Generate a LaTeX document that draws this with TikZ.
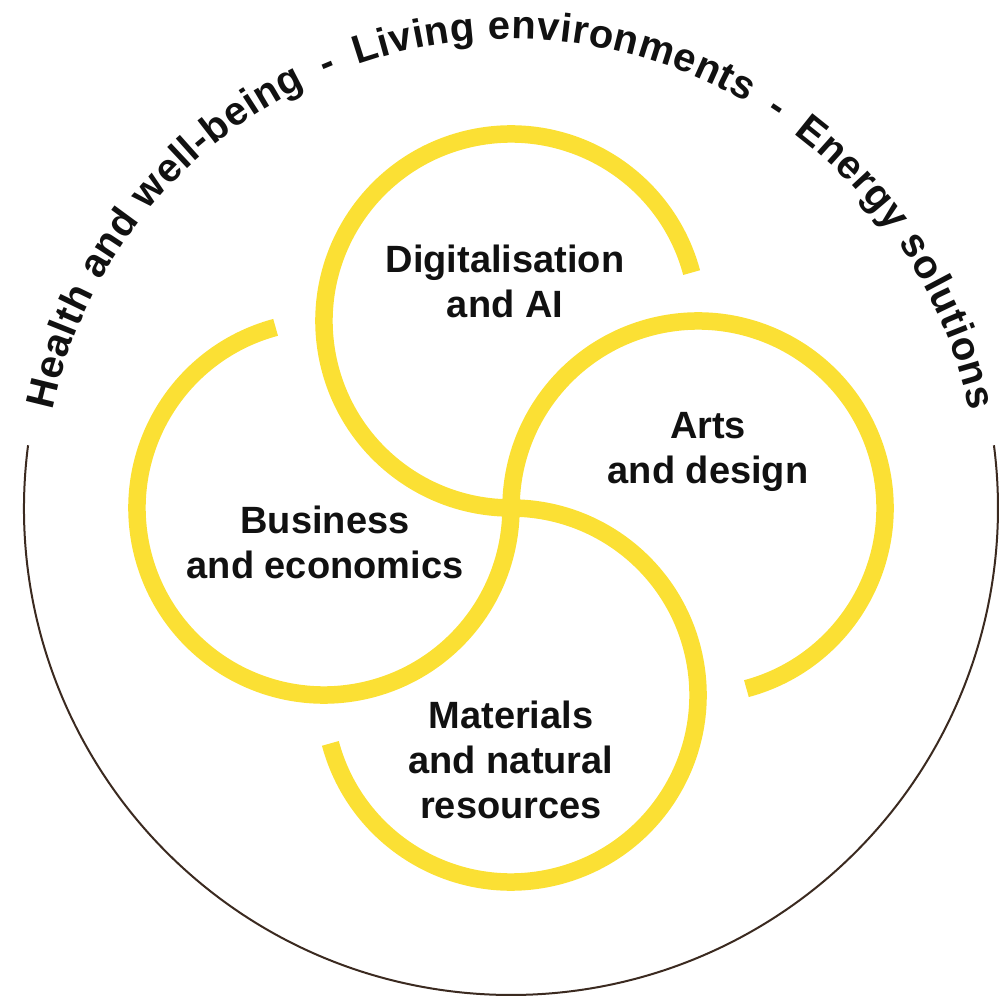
\documentclass[tikz,border=0pt]{standalone}
\usepackage{fontspec}
\setmainfont{Liberation Sans}
\usepackage{xcolor}
\usetikzlibrary{decorations.text}
\definecolor{Ink}{HTML}{111111}
\definecolor{Sun}{HTML}{FBE034}
\definecolor{Bark}{HTML}{3B2A20}

\begin{document}
\begin{tikzpicture}[x=1pt,y=1pt,
  ring/.style={Sun,line width=17.5pt},
  topic/.style={align=center,text=Ink,font=\bfseries\fontsize{38}{45}\selectfont}]
  \useasboundingbox (0,0) rectangle (1008,999);
  \coordinate (hub) at (511,491);
  \coordinate (d) at (511,678);
  \coordinate (a) at (698,491);
  \coordinate (m) at (511,304);
  \coordinate (b) at (324,491);
  % outer rim
  \draw[Bark,line width=2pt] (hub) ++(172.6:487) arc[start angle=172.6,end angle=367.4,radius=487];
  % four rings meeting in the hub
  \draw[ring] (d) ++(15:187) arc[start angle=15,end angle=270,radius=187];
  \draw[ring] (a) ++(-75:187) arc[start angle=-75,end angle=180,radius=187];
  \draw[ring] (m) ++(-165:187) arc[start angle=-165,end angle=90,radius=187];
  \draw[ring] (b) ++(105:187) arc[start angle=105,end angle=360,radius=187];
  % themes along the top
  \path[decorate,decoration={text along path,text align=fit to path,
    text={|\bfseries\fontsize{40}{46}\selectfont\color{Ink}|Health and well-being {\hspace{8pt}}- {\hspace{8pt}}Living environments {\hspace{8pt}}- {\hspace{8pt}}Energy solutions}}]
    (hub) ++(168:469) arc[start angle=168,end angle=12,radius=469];
  \node[topic] (digital) at (505,718) {Digitalisation\\and AI};
  \node[topic] (arts) at (708,547) {Arts\\and design};
  \node[topic] (business) at (325,457) {Business\\and economics};
  \node[topic] (materials) at (511,239) {Materials\\and natural\\resources};
\end{tikzpicture}
\end{document}
